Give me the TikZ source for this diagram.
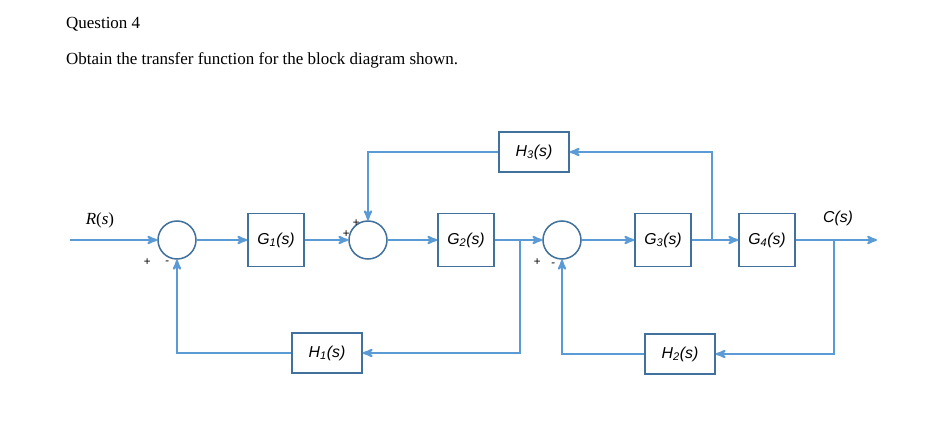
\documentclass[tikz,border=0pt]{standalone}
\usepackage{fontspec}
\setmainfont{Liberation Serif}
\newfontfamily\sansit{Liberation Sans}
\usetikzlibrary{arrows}
\definecolor{linecol}{RGB}{91,155,213}
\definecolor{boxcol}{RGB}{65,113,156}
\tikzset{
  block/.style={draw=boxcol, line width=1.3pt, minimum width=1.68cm, minimum height=1.6cm, font=\sansit\itshape\fontsize{13.5}{15}\selectfont},
  fb/.style={draw=boxcol, line width=1.3pt, minimum width=2.1cm, minimum height=1.2cm, font=\sansit\itshape\fontsize{13.5}{15}\selectfont},
  sum/.style={draw=boxcol, line width=1.3pt, circle, minimum size=1.14cm},
  sign/.style={font=\sansit\itshape\fontsize{10}{12}\selectfont},
  sig/.style={draw=linecol, line width=1.8pt, -stealth'}
}
\begin{document}
\begin{tikzpicture}[x=0.03cm,y=-0.03cm]
        \useasboundingbox (0,0) rectangle (934,428);
        \node[anchor=west,font=\fontsize{14.5}{17}\selectfont] (title) at (62,24) {Question 4};
        \node[anchor=west,font=\fontsize{14.5}{17}\selectfont] (task) at (62,60) {Obtain the transfer function for the block diagram shown.};
        % forward path
        \coordinate (in) at (70,240);
        \node[font=\fontsize{14.5}{17}\selectfont] (rlab) at (100,220) {\textit{R}(\textit{s})};
        \node[sum] (s1) at (177,240) {};
        \node[block] (g1) at (276,240) {G\textsubscript{1}(s)};
        \node[sum] (s2) at (368,240) {};
        \node[block] (g2) at (466,240) {G\textsubscript{2}(s)};
        \node[sum] (s3) at (562,240) {};
        \node[block] (g3) at (663,240) {G\textsubscript{3}(s)};
        \node[block] (g4) at (767,240) {G\textsubscript{4}(s)};
        \coordinate (out) at (877,240);
        \node[font=\sansit\itshape\fontsize{13.5}{15}\selectfont] (clab) at (838,218) {C(s)};
        % feedback blocks
        \node[fb] (h3) at (534,152) {H\textsubscript{3}(s)};
        \node[fb] (h1) at (327,353) {H\textsubscript{1}(s)};
        \node[fb] (h2) at (680,354) {H\textsubscript{2}(s)};
        \draw[sig] (in) -- (s1);
        \draw[sig] (s1) -- (g1);
        \draw[sig] (g1) -- (s2);
        \draw[sig] (s2) -- (g2);
        \draw[sig] (g2) -- (s3);
        \draw[sig] (s3) -- (g3);
        \draw[sig] (g3) -- (g4);
        \draw[sig] (g4) -- (out);
        % loops
        \coordinate (b3) at (712,240);
        \coordinate (b1) at (520,240);
        \coordinate (b2) at (834,240);
        \draw[sig] (b3) |- (h3);
        \draw[sig] (h3) -| (s2);
        \draw[sig] (b1) |- (h1);
        \draw[sig] (h1) -| (s1);
        \draw[sig] (b2) |- (h2);
        \draw[sig] (h2) -| (s3);
        % signs
        \node[sign] at (147,262) {+};
        \node[sign] at (167,263) {-};
        \node[sign] at (356,223) {+};
        \node[sign] at (346,234) {+};
        \node[sign] at (537,262) {+};
        \node[sign] at (553,265) {-};
      \end{tikzpicture}
\end{document}
